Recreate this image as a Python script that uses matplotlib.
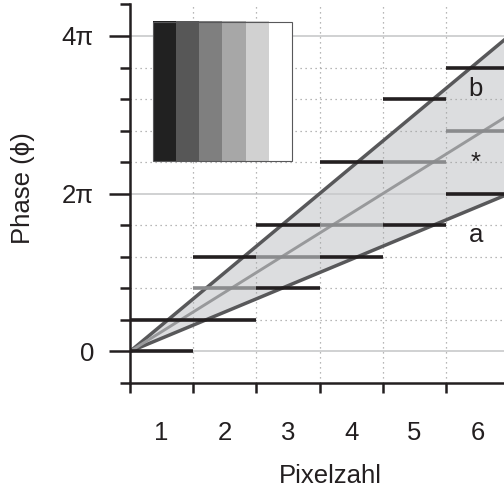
import numpy as np
import matplotlib
matplotlib.use('Agg')
import matplotlib.pyplot as plt
from matplotlib.patches import Rectangle

plt.rcParams['font.family'] = ['Liberation Sans', 'DejaVu Sans']

# Phasen in Einheiten von pi
pixel_labels = ['1', '2', '3', '4', '5', '6']
# (x_start, x_end, phase/pi)
black_bars = [(0, 1, 0.0), (0, 2, 0.4), (2, 3, 0.8), (1, 2, 1.2), (3, 4, 1.2),
              (2, 3, 1.6), (4, 5, 1.6), (5, 6, 2.0), (3, 4, 2.4), (4, 5, 3.2),
              (5, 6, 3.6)]
gray_bars = [(1, 2, 0.8), (2, 3, 1.2), (3, 4, 1.6), (4, 5, 2.4), (5, 6, 2.8)]
slope_upper = 2 / 3   # pi pro Pixel
slope_mid = 1 / 2
slope_lower = 1 / 3
gray_levels = [0.13, 0.345, 0.50, 0.655, 0.82, 1.0]
labels = [('b', 5.47, 3.24), ('*', 5.47, 2.30), ('a', 5.47, 1.39)]

PI = np.pi
c_black = '#231f20'
c_gray = '#8a8b8d'
fs = 18.5

fig = plt.figure(figsize=(5.04, 4.91), dpi=100)
ax = fig.add_axes([130 / 504, 108 / 491, 374 / 504, 378.6 / 491])
ax.set_xlim(0, 5.92)
ax.set_ylim(-0.4 * PI, 4.4 * PI)

# Gitter
for k in range(1, 11):
    if k % 5 == 0:
        continue
    ax.axhline(k * 0.4 * PI, color='#a0a0a0', lw=0.9, ls=(0, (1, 3)), zorder=1)
for k in (0, 2, 4):
    ax.axhline(k * PI, color='#c8c9cb', lw=1.2, zorder=1)
for x in range(1, 6):
    ax.axvline(x, color='#a0a0a0', lw=0.9, ls=(0, (1, 3)), zorder=1)

# Faecher
xs = np.array([0, 6.5])
ax.fill_between(xs, slope_lower * PI * xs, slope_upper * PI * xs, color='#dcdddf', lw=0, zorder=0)
ax.plot(xs, slope_upper * PI * xs, color='#58585a', lw=2.5, zorder=2)
ax.plot(xs, slope_lower * PI * xs, color='#58585a', lw=2.5, zorder=2)
ax.plot(xs, slope_mid * PI * xs, color='#98999b', lw=2.1, zorder=2)

for x0, x1, p in black_bars:
    ax.plot([x0, x1], [p * PI, p * PI], color=c_black, lw=2.6, solid_capstyle='butt', zorder=3)
for x0, x1, p in gray_bars:
    ax.plot([x0, x1], [p * PI, p * PI], color=c_gray, lw=2.6, solid_capstyle='butt', zorder=3)

# Graustufen
img = np.array(gray_levels)[None, :, None].repeat(3, axis=2)
ext = [0.36, 2.56, 2.41 * PI, 4.18 * PI]
ax.imshow(img, extent=ext, aspect='auto', interpolation='nearest', zorder=4)
ax.add_patch(Rectangle((ext[0], ext[2]), ext[1] - ext[0], ext[3] - ext[2],
                       fill=False, ec='#58585a', lw=0.8, zorder=5))
ax.set_xlim(0, 5.92)
ax.set_ylim(-0.4 * PI, 4.4 * PI)

for s, x, y in labels:
    ax.text(x, y * PI, s, fontsize=fs, ha='center', va='baseline', color=c_black, zorder=6)

# Achsen
for side in ('top', 'right'):
    ax.spines[side].set_visible(False)
for side in ('left', 'bottom'):
    ax.spines[side].set_linewidth(1.8)
    ax.spines[side].set_color(c_black)

ax.set_yticks([0, 2 * PI, 4 * PI], ['0', '2π', '4π'])
ax.set_yticks([k * 0.4 * PI for k in range(-1, 12) if k % 5 != 0], minor=True)
ax.tick_params(axis='y', which='major', length=15, width=1.8, pad=11, labelsize=fs,
               color=c_black, labelcolor=c_black)
ax.tick_params(axis='y', which='minor', length=7, width=1.8, color=c_black)

ax.set_xticks(range(0, 6), [''] * 6)
ax.set_xticks([i + 0.5 for i in range(6)], pixel_labels, minor=True)
ax.tick_params(axis='x', which='major', length=7, width=1.8, color=c_black)
ax.tick_params(axis='x', which='minor', length=0, pad=27, labelsize=fs, labelcolor=c_black)

fig.text(330 / 504, 1 - 483 / 491, 'Pixelzahl', fontsize=fs, ha='center', va='baseline',
         color=c_black)
fig.text(23 / 504, 1 - 188 / 491, 'Phase (ϕ)', fontsize=fs, ha='center', va='center',
         rotation=90, color=c_black)

fig.savefig('out.png', dpi=100)
